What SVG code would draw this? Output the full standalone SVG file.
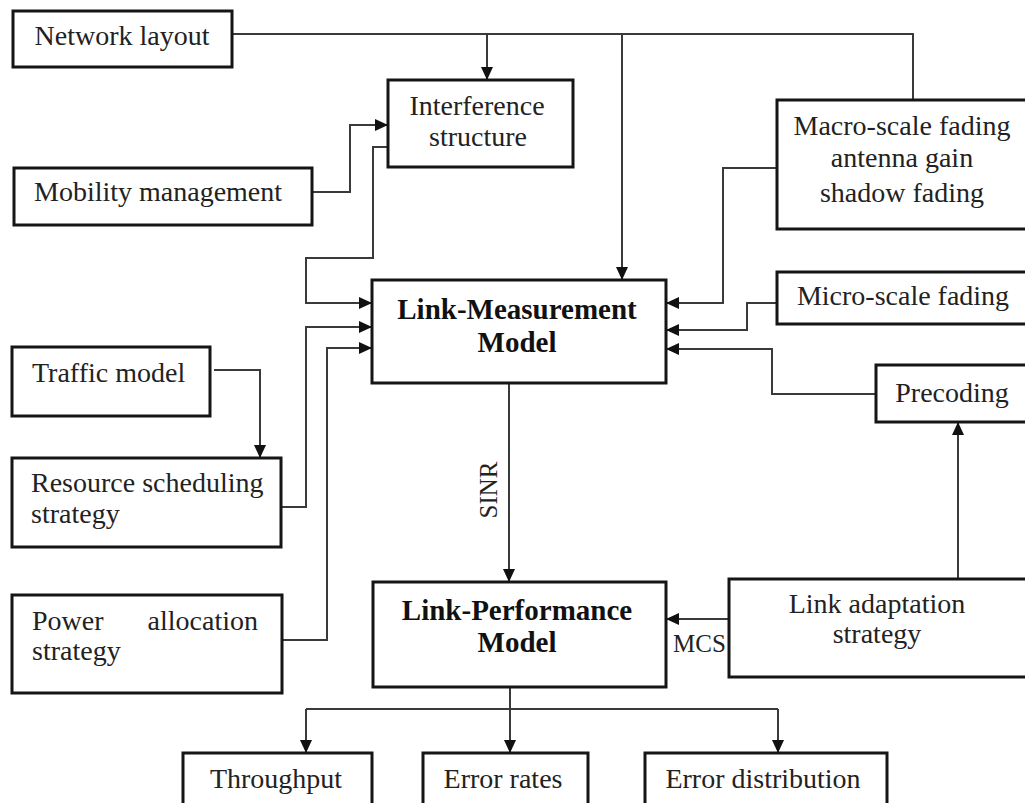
<svg xmlns="http://www.w3.org/2000/svg" width="1025" height="803" viewBox="0 0 1025 803">
  <style>
    .box { fill: #ffffff; stroke: #151515; stroke-width: 3; }
    .lbl { font-family: "Liberation Serif", "Times New Roman", serif; font-size: 28px; fill: #222; }
    .mid { text-anchor: middle; }
    .bold { font-weight: bold; font-size: 29px; fill: #111; }
    .small { font-size: 25px; }
    .wire { fill: none; stroke: #3a3a3a; stroke-width: 2; }
  </style>
  <defs>
    <marker id="arrow" markerUnits="userSpaceOnUse" markerWidth="14" markerHeight="12" refX="13" refY="6" orient="auto">
      <path d="M0,0 L13,6 L0,12 Z" fill="#111"/>
    </marker>
  </defs>
  <rect x="0" y="0" width="1025" height="803" fill="#ffffff"/>

  <!-- connectors -->
  <g id="connectors" class="wire">
    <path d="M232,34 H913 V100"/>
    <path d="M487,34 V80" marker-end="url(#arrow)"/>
    <path d="M622,34 V280" marker-end="url(#arrow)"/>
    <path d="M312,192 H350 V125 H388" marker-end="url(#arrow)"/>
    <path d="M388,147 H373 V258 H306 V303 H372" marker-end="url(#arrow)"/>
    <path d="M281,507 H306 V327 H372" marker-end="url(#arrow)"/>
    <path d="M282,640 H327 V348 H372" marker-end="url(#arrow)"/>
    <path d="M214,370 H260 V458" marker-end="url(#arrow)"/>
    <path d="M777,168 H723 V303 H666" marker-end="url(#arrow)"/>
    <path d="M777,303 H747 V330 H666" marker-end="url(#arrow)"/>
    <path d="M876,394 H772 V349 H666" marker-end="url(#arrow)"/>
    <path d="M958,579 V422" marker-end="url(#arrow)"/>
    <path d="M729,619 H666" marker-end="url(#arrow)"/>
    <path d="M509,383 V582" marker-end="url(#arrow)"/>
    <path d="M510,688 V753" marker-end="url(#arrow)"/>
    <path d="M306,709 H778"/>
    <path d="M306,709 V753" marker-end="url(#arrow)"/>
    <path d="M778,709 V753" marker-end="url(#arrow)"/>
    <text class="lbl small" x="497" y="490" text-anchor="middle" transform="rotate(-90 497 490)" stroke="none">SINR</text>
    <text class="lbl small" x="673" y="652" stroke="none">MCS</text>
  </g>

  <g id="network-layout">
    <rect class="box" x="13" y="11" width="219" height="56"/>
    <text class="lbl mid" x="122" y="45">Network layout</text>
  </g>

  <g id="interference-structure">
    <rect class="box" x="388" y="80" width="185" height="87"/>
    <text class="lbl mid" x="477" y="115">Interference</text>
    <text class="lbl mid" x="478" y="146">structure</text>
  </g>

  <g id="mobility-management">
    <rect class="box" x="14" y="168" width="298" height="57"/>
    <text class="lbl" x="34" y="201">Mobility management</text>
  </g>

  <g id="macro-scale-fading">
    <rect class="box" x="777" y="100" width="253" height="129"/>
    <text class="lbl mid" x="902" y="135">Macro-scale fading</text>
    <text class="lbl mid" x="902" y="167">antenna gain</text>
    <text class="lbl mid" x="902" y="202">shadow fading</text>
  </g>

  <g id="micro-scale-fading">
    <rect class="box" x="777" y="272" width="253" height="52"/>
    <text class="lbl mid" x="903" y="305">Micro-scale fading</text>
  </g>

  <g id="link-measurement-model">
    <rect class="box" x="372" y="280" width="294" height="103"/>
    <text class="lbl bold mid" x="517" y="319">Link-Measurement</text>
    <text class="lbl bold mid" x="517" y="352">Model</text>
  </g>

  <g id="precoding">
    <rect class="box" x="876" y="365" width="154" height="57"/>
    <text class="lbl mid" x="952" y="402">Precoding</text>
  </g>

  <g id="traffic-model">
    <rect class="box" x="12" y="347" width="198" height="69"/>
    <text class="lbl" x="32" y="382">Traffic model</text>
  </g>

  <g id="resource-scheduling-strategy">
    <rect class="box" x="12" y="458" width="269" height="89"/>
    <text class="lbl" x="31" y="492">Resource scheduling</text>
    <text class="lbl" x="31" y="523">strategy</text>
  </g>

  <g id="power-allocation-strategy">
    <rect class="box" x="12" y="595" width="270" height="98"/>
    <text class="lbl" y="630"><tspan x="32">Power</tspan><tspan x="258" text-anchor="end">allocation</tspan></text>
    <text class="lbl" x="32" y="660">strategy</text>
  </g>

  <g id="link-performance-model">
    <rect class="box" x="373" y="582" width="293" height="105"/>
    <text class="lbl bold mid" x="517" y="620">Link-Performance</text>
    <text class="lbl bold mid" x="517" y="652">Model</text>
  </g>

  <g id="link-adaptation-strategy">
    <rect class="box" x="729" y="579" width="301" height="98"/>
    <text class="lbl mid" x="877" y="613">Link adaptation</text>
    <text class="lbl mid" x="877" y="643">strategy</text>
  </g>

  <g id="throughput">
    <rect class="box" x="183" y="753" width="189" height="60"/>
    <text class="lbl mid" x="276" y="788">Throughput</text>
  </g>

  <g id="error-rates">
    <rect class="box" x="423" y="753" width="165" height="60"/>
    <text class="lbl mid" x="503" y="788">Error rates</text>
  </g>

  <g id="error-distribution">
    <rect class="box" x="645" y="753" width="242" height="60"/>
    <text class="lbl mid" x="763" y="788">Error distribution</text>
  </g>
</svg>
